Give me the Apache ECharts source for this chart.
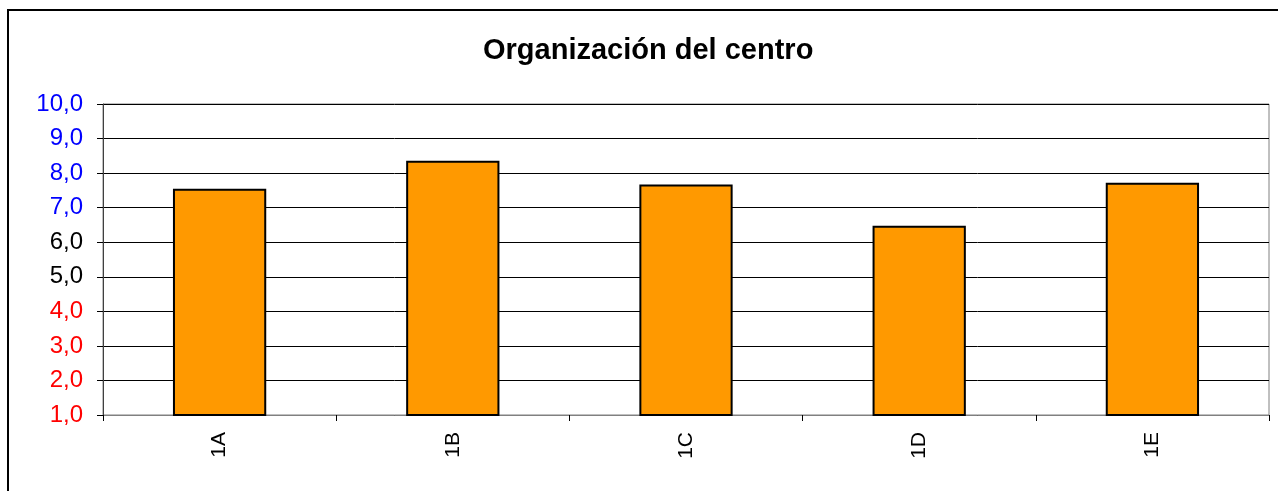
<!DOCTYPE html>
<html>
<head>
<meta charset="utf-8">
<script src="https://cdn.jsdelivr.net/npm/echarts@6/dist/echarts.min.js"></script>
<style>
  html, body { margin: 0; padding: 0; background: #fff; }
  #chart { width: 1278px; height: 491px; }
</style>
</head>
<body>
<div id="chart"></div>
<script>
// datos del gráfico
var grupos = ['1A', '1B', '1C', '1D', '1E'];
var notas = [7.55, 8.36, 7.67, 6.48, 7.72];
var tituloTexto = 'Organización del centro';

// color de cada etiqueta del eje y según el valor
function colorEtiqueta(v) {
    if (v >= 7) return '#0000ff';
    if (v >= 5) return '#000000';
    return '#ff0000';
}

var chart = echarts.init(document.getElementById('chart'));
var option = {
    animation: false,
    backgroundColor: '#fff',
    title: {
        text: tituloTexto,
        left: 478,
        top: 31,
        textStyle: { fontFamily: 'Liberation Sans, Arial', fontSize: 29, fontWeight: 'bold', color: '#000' }
    },
    graphic: [{
        type: 'rect',
        shape: { x: 8, y: 10, width: 1290, height: 500 },
        style: { fill: 'none', stroke: '#000', lineWidth: 2 },
        silent: true
    }],
    grid: {
        left: 103, right: 9, top: 104, bottom: 76,
        show: true, borderColor: '#808080', borderWidth: 1, backgroundColor: 'transparent'
    },
    xAxis: {
        type: 'category',
        data: grupos,
        axisLine: { lineStyle: { color: '#808080', width: 1 } },
        axisTick: { show: true, length: 6, lineStyle: { color: '#000' } },
        axisLabel: {
            rotate: 90, margin: 17,
            fontFamily: 'Liberation Sans, Arial', fontSize: 21, color: '#000'
        }
    },
    yAxis: {
        type: 'value',
        min: 1, max: 10, interval: 1,
        axisLine: { show: true, lineStyle: { color: '#404040', width: 1 } },
        axisTick: { show: true, length: 6, lineStyle: { color: '#000' } },
        splitLine: { show: true, lineStyle: { color: '#000', width: 1 } },
        axisLabel: {
            margin: 20,
            fontFamily: 'Liberation Sans, Arial', fontSize: 24,
            formatter: function (v) { return v.toFixed(1).replace('.', ','); },
            color: function (v) { return colorEtiqueta(Number(v)); }
        }
    },
    series: [{
        type: 'bar',
        data: notas,
        barWidth: '40%',
        itemStyle: { color: '#ff9900', borderColor: '#000', borderWidth: 2 }
    }]
};
chart.setOption(option);
</script>
</body>
</html>
